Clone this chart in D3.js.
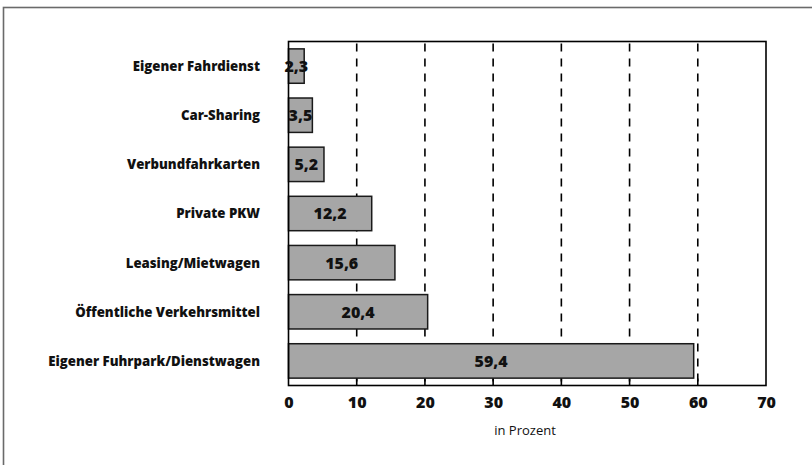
<!DOCTYPE html>
<html>
<head>
<meta charset="utf-8">
<script src="https://cdn.jsdelivr.net/npm/d3@7"></script>
<style>
  html, body { margin: 0; padding: 0; background: #fff; }
  svg { display: block; font-family: "Open Sans", "Noto Sans", sans-serif; }
</style>
</head>
<body>
<svg id="chart" width="812" height="465"></svg>
<script>
// Nutzung von Verkehrsmitteln für Dienstreisen (Anteil in Prozent)
const categories = [
  "Eigener Fahrdienst",
  "Car-Sharing",
  "Verbundfahrkarten",
  "Private PKW",
  "Leasing/Mietwagen",
  "Öffentliche Verkehrsmittel",
  "Eigener Fuhrpark/Dienstwagen"
];
const values = [2.3, 3.5, 5.2, 12.2, 15.6, 20.4, 59.4];
const tickValues = [0, 10, 20, 30, 40, 50, 60, 70];
const axisTitle = "in Prozent";

const svg = d3.select("#chart");
const plot = { left: 288.5, right: 766, top: 41.5, bottom: 385.5 };

// outer frame
svg.append("rect")
  .attr("x", 3.5).attr("y", 7.5)
  .attr("width", 830).attr("height", 480)
  .attr("fill", "none")
  .attr("stroke", "#6a6a6a")
  .attr("stroke-width", 1.6);

const x = d3.scaleLinear().domain([0, 70]).range([plot.left, plot.right]);
const y = d3.scaleBand().domain(categories)
  .range([plot.top, plot.bottom]).paddingInner(0.3).paddingOuter(0.15);

// dashed gridlines
svg.append("g").selectAll("line")
  .data(tickValues.filter(t => t > 0 && t < 70))
  .join("line")
  .attr("x1", d => x(d)).attr("x2", d => x(d))
  .attr("y1", plot.top + 2).attr("y2", plot.bottom)
  .attr("stroke", "#000")
  .attr("stroke-width", 1.6)
  .attr("stroke-dasharray", "8,7");

// inner tick marks on the value axis
svg.append("g").selectAll("line")
  .data(tickValues.filter(t => t > 0 && t < 70))
  .join("line")
  .attr("x1", d => x(d)).attr("x2", d => x(d))
  .attr("y1", plot.bottom - 7).attr("y2", plot.bottom)
  .attr("stroke", "#000")
  .attr("stroke-width", 1.6);

// bars
svg.append("g").selectAll("rect")
  .data(values)
  .join("rect")
  .attr("x", x(0))
  .attr("y", (d, i) => y(categories[i]))
  .attr("width", d => x(d) - x(0))
  .attr("height", y.bandwidth())
  .attr("fill", "#a6a6a6")
  .attr("stroke", "#1a1a1a")
  .attr("stroke-width", 1.5);

// plot border
svg.append("rect")
  .attr("x", plot.left).attr("y", plot.top)
  .attr("width", plot.right - plot.left)
  .attr("height", plot.bottom - plot.top)
  .attr("fill", "none")
  .attr("stroke", "#000")
  .attr("stroke-width", 1.6);

// value labels
svg.append("g").selectAll("text")
  .data(values)
  .join("text")
  .attr("x", d => (x(0) + x(d)) / 2)
  .attr("y", (d, i) => y(categories[i]) + y.bandwidth() / 2)
  .attr("dy", "0.37em")
  .attr("text-anchor", "middle")
  .attr("font-size", 16)
  .attr("font-weight", 800)
  .attr("fill", "#111")
  .text(d => d3.format(".1f")(d).replace(".", ","));

// category labels
svg.append("g").selectAll("text")
  .data(categories)
  .join("text")
  .attr("x", 260)
  .attr("y", d => y(d) + y.bandwidth() / 2)
  .attr("dy", "0.37em")
  .attr("text-anchor", "end")
  .attr("font-size", 13.2)
  .attr("font-weight", 800)
  .attr("fill", "#111")
  .text(d => d);

// value axis labels
const axis = svg.append("g")
  .attr("transform", `translate(0,${plot.bottom})`)
  .call(d3.axisBottom(x).tickValues(tickValues).tickSize(0).tickPadding(11));
axis.select(".domain").remove();
axis.selectAll("text")
  .attr("font-family", "'Open Sans', 'Noto Sans', sans-serif")
  .attr("font-size", 16)
  .attr("font-weight", 800)
  .attr("fill", "#111");

svg.append("text")
  .attr("x", 525)
  .attr("y", 435)
  .attr("text-anchor", "middle")
  .attr("font-size", 13)
  .attr("fill", "#111")
  .text(axisTitle);
</script>
</body>
</html>
